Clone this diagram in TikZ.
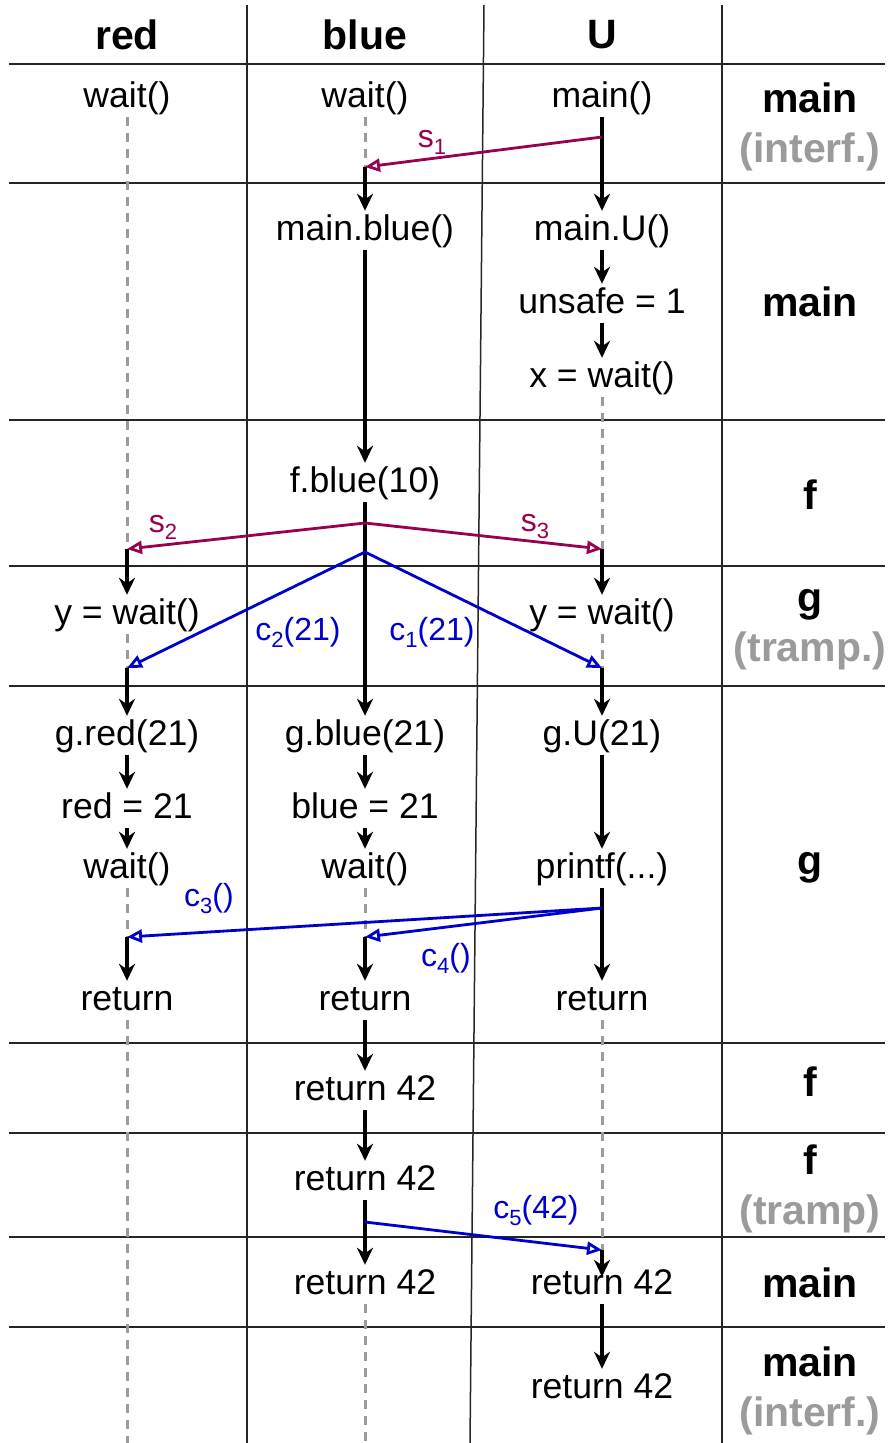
\documentclass[tikz,border=0pt]{standalone}
\usepackage{fontspec}
\setmainfont{Liberation Sans}
\usetikzlibrary{arrows.meta}

\definecolor{sigpurple}{RGB}{153,0,77}
\definecolor{callblue}{RGB}{0,0,204}
\definecolor{lanegray}{RGB}{155,155,155}

\newcommand{\lowsub}[1]{\raisebox{-7pt}{\fontsize{22}{24}\selectfont #1}}

\begin{document}
\begin{tikzpicture}[x=1pt, y=-1pt,
    grid/.style={black!85, line width=1.5pt},
    op/.style={font=\fontsize{35.6}{42}\selectfont, anchor=base, text height=26pt, text depth=7pt, inner xsep=2pt, inner ysep=3pt},
    head/.style={font=\fontsize{41}{50}\selectfont\bfseries, align=center},
    flow/.style={black, line width=3.2pt, -{Stealth[length=17pt, width=16pt]}},
    idle/.style={lanegray, line width=3pt, dash pattern=on 9pt off 7pt},
    sig/.style={sigpurple, line width=2.8pt, -{Triangle[open, length=15pt, width=13pt]}},
    cont/.style={callblue, line width=2.8pt, -{Triangle[open, length=15pt, width=13pt]}},
    tag/.style={font=\fontsize{32}{38}\selectfont, inner sep=1pt}]

    \useasboundingbox (0,0) rectangle (890,1443);

    % Table
    \foreach \h in {64,183,420,566,686,1043,1133,1237,1327} {
        \draw[grid] (9,\h) -- (885,\h);
    }
    \draw[grid] (247,5) -- (247,1443);
    \draw[grid] (484,5) -- (470,1443);
    \draw[grid] (722,5) -- (722,1443);

    % Column heads
    \node[head] (hred)  at (127,35) {red};
    \node[head] (hblue) at (365,35) {blue};
    \node[head] (hu)    at (602,35) {U};

    % Stack frames
    \node[head] (fr1) at (810,127)  {main\\\textcolor{lanegray}{(interf.)}};
    \node[head] (fr2) at (810,302)  {main};
    \node[head] (fr3) at (810,495)  {f};
    \node[head] (fr4) at (810,630)  {g\\\textcolor{lanegray}{(tramp.)}};
    \node[head] (fr5) at (810,868)  {g};
    \node[head] (fr6) at (810,1082) {f};
    \node[head] (fr7) at (810,1189) {f\\\textcolor{lanegray}{(tramp)}};
    \node[head] (fr8) at (810,1283) {main};
    \node[head] (fr9) at (810,1391) {main\\\textcolor{lanegray}{(interf.)}};

    % Thread red
    \node[op] (wred)    at (127,107)  {wait()};
    \node[op] (yred)    at (127,624)  {y = wait()};
    \node[op] (gred)    at (127,745)  {g.red(21)};
    \node[op] (setred)  at (127,818)  {red = 21};
    \node[op] (wred2)   at (127,878)  {wait()};
    \node[op] (rred)    at (127,1010) {return};

    % Thread blue
    \node[op] (wblue)   at (365,107)  {wait()};
    \node[op] (mblue)   at (365,240)  {main.blue()};
    \node[op] (fblue)   at (365,492)  {f.blue(10)};
    \node[op] (gblue)   at (365,745)  {g.blue(21)};
    \node[op] (setblue) at (365,818)  {blue = 21};
    \node[op] (wblue2)  at (365,878)  {wait()};
    \node[op] (rblue)   at (365,1010) {return};
    \node[op] (rfblue)  at (365,1100) {return 42};
    \node[op] (rtblue)  at (365,1190) {return 42};
    \node[op] (rmblue)  at (365,1294) {return 42};

    % Thread U
    \node[op] (mainu)   at (602,107)  {main()};
    \node[op] (mu)      at (602,240)  {main.U()};
    \node[op] (unsafe)  at (602,313)  {unsafe = 1};
    \node[op] (xu)      at (602,387)  {x = wait()};
    \node[op] (yu)      at (602,624)  {y = wait()};
    \node[op] (gu)      at (602,745)  {g.U(21)};
    \node[op] (pu)      at (602,878)  {printf(...)};
    \node[op] (ru)      at (602,1010) {return};
    \node[op] (rmu)     at (602,1294) {return 42};
    \node[op] (riu)     at (602,1398) {return 42};

    \coordinate (s1a)  at (602,137);   % s_1 leaves U
    \coordinate (s1b)  at (365,167);   % s_1 reaches blue
    \coordinate (s23a) at (365,523);   % s_2, s_3 leave blue
    \coordinate (s2b)  at (127,549);
    \coordinate (s3b)  at (602,549);
    \coordinate (c12a) at (365,552);   % c_1, c_2 leave blue
    \coordinate (c2b)  at (127,668);
    \coordinate (c1b)  at (602,668);
    \coordinate (c34a) at (602,908);   % c_3, c_4 leave U
    \coordinate (c3b)  at (127,937);
    \coordinate (c4b)  at (365,937);
    \coordinate (c5a)  at (365,1222);  % c_5 leaves blue
    \coordinate (c5b)  at (602,1250);
    \coordinate (endred)  at (127,1443);
    \coordinate (endblue) at (365,1443);

    % Lifeline red
    \draw[idle] (wred)   -- (s2b);
    \draw[flow] (s2b)    -- (yred);
    \draw[idle] (yred)   -- (c2b);
    \draw[flow] (c2b)    -- (gred);
    \draw[flow] (gred)   -- (setred);
    \draw[flow] (setred) -- (wred2);
    \draw[idle] (wred2)  -- (c3b);
    \draw[flow] (c3b)    -- (rred);
    \draw[idle] (rred)   -- (endred);

    % Lifeline blue
    \draw[idle] (wblue)   -- (s1b);
    \draw[flow] (s1b)     -- (mblue);
    \draw[flow] (mblue)   -- (fblue);
    \draw[flow] (fblue)   -- (gblue);
    \draw[flow] (gblue)   -- (setblue);
    \draw[flow] (setblue) -- (wblue2);
    \draw[idle] (wblue2)  -- (c4b);
    \draw[flow] (c4b)     -- (rblue);
    \draw[flow] (rblue)   -- (rfblue);
    \draw[flow] (rfblue)  -- (rtblue);
    \draw[flow] (rtblue)  -- (rmblue);
    \draw[idle] (rmblue)  -- (endblue);

    % Lifeline U
    \draw[flow] (mainu)  -- (mu);
    \draw[flow] (mu)     -- (unsafe);
    \draw[flow] (unsafe) -- (xu);
    \draw[idle] (xu)     -- (s3b);
    \draw[flow] (s3b)    -- (yu);
    \draw[idle] (yu)     -- (c1b);
    \draw[flow] (c1b)    -- (gu);
    \draw[flow] (gu)     -- (pu);
    \draw[flow] (pu)     -- (ru);
    \draw[idle] (ru)     -- (c5b);
    \draw[flow, shorten >=-12pt] (c5b) -- (rmu);
    \draw[flow] (rmu)    -- (riu);

    % Signals and continuations
    \draw[sig]  (s1a)  -- (s1b);
    \draw[sig]  (s23a) -- (s2b);
    \draw[sig]  (s23a) -- (s3b);
    \draw[cont] (c12a) -- (c2b);
    \draw[cont] (c12a) -- (c1b);
    \draw[cont] (c34a) -- (c3b);
    \draw[cont] (c34a) -- (c4b);
    \draw[cont] (c5a)  -- (c5b);

    \node[tag, text=sigpurple] (ls1) at (432,142)  {s\lowsub{1}};
    \node[tag, text=sigpurple] (ls2) at (163,527)  {s\lowsub{2}};
    \node[tag, text=sigpurple] (ls3) at (535,527)  {s\lowsub{3}};
    \node[tag, text=callblue]  (lc2) at (298,632)  {c\lowsub{2}(21)};
    \node[tag, text=callblue]  (lc1) at (432,632)  {c\lowsub{1}(21)};
    \node[tag, text=callblue]  (lc3) at (209,899)  {c\lowsub{3}()};
    \node[tag, text=callblue]  (lc4) at (446,958)  {c\lowsub{4}()};
    \node[tag, text=callblue]  (lc5) at (536,1210) {c\lowsub{5}(42)};

\end{tikzpicture}
\end{document}
